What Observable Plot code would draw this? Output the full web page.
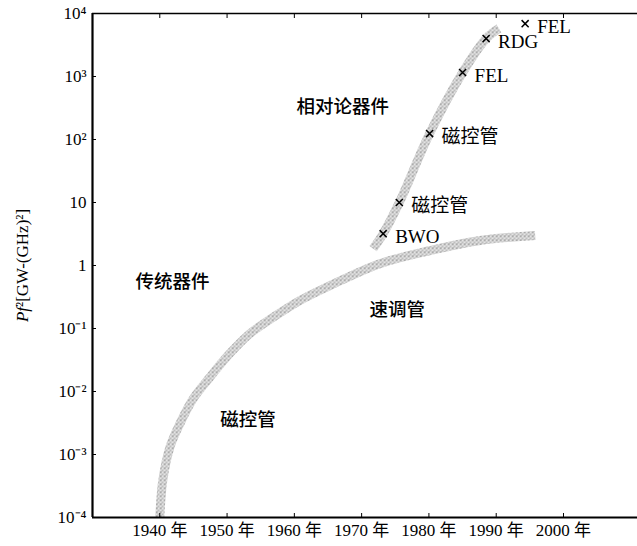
<!DOCTYPE html>
<html>
<head>
<meta charset="utf-8">
<script src="https://cdn.jsdelivr.net/npm/d3@7"></script>
<script src="https://cdn.jsdelivr.net/npm/@observablehq/plot@0.6"></script>
<style>
  html, body { margin: 0; padding: 0; background: #fff; }
</style>
</head>
<body>
<div id="chart"></div>
<script>
// ---- data ----
const xTicks = [1940, 1950, 1960, 1970, 1980, 1990, 2000];
const xTickLabels = ["1940 年", "1950 年", "1960 年", "1970 年", "1980 年", "1990 年", "2000 年"];
const yTicks = [1e-4, 1e-3, 1e-2, 1e-1, 1, 10, 100, 1e3, 1e4];
const yTickLabels = ["10⁻⁴", "10⁻³", "10⁻²", "10⁻¹", "1", "10", "10²", "10³", "10⁴"];
const yLabel = "Pf²[GW-(GHz)²]";

// conventional devices trend band
const lowerYears  = [1940.0, 1940.45, 1941.5, 1943.0, 1944.9, 1947.4, 1950.4, 1953.4, 1956.8, 1960.8, 1965.3, 1972.7, 1980.2, 1987.6, 1995.8];
const lowerValues = [1e-4, 3.9e-4, 1.3e-3, 3.1e-3, 7.5e-3, 0.0166, 0.040, 0.083, 0.149, 0.277, 0.48, 1.07, 1.73, 2.5, 3.0];

// relativistic devices trend band
const upperYears  = [1971.7, 1973.2, 1975.6, 1980.1, 1985.0, 1988.5, 1990.4];
const upperValues = [1.85, 3.2, 10, 124, 1155, 4000, 5800];

// marked devices
const deviceNames  = ["BWO", "磁控管", "磁控管", "FEL", "RDG", "FEL"];
const deviceYears  = [1973.2, 1975.6, 1980.1, 1985.0, 1988.5, 1994.3];
const deviceValues = [3.2, 10, 124, 1155, 4000, 6900];

// region labels
const regionNames  = ["相对论器件", "传统器件", "速调管", "磁控管"];
const regionYears  = [1967.2, 1941.9, 1975.3, 1953.1];
const regionValues = [325, 0.54, 0.193, 0.0035];

// ---- tables built from the arrays ----
const lower = lowerYears.map((x, i) => ({x, y: lowerValues[i]}));
const upper = upperYears.map((x, i) => ({x, y: upperValues[i]}));
const devices = deviceNames.map((name, i) => ({name, x: deviceYears[i], y: deviceValues[i]}));
const regions = regionNames.map((name, i) => ({name, x: regionYears[i], y: regionValues[i]}));

const serif = "'Liberation Serif','Times New Roman','Noto Sans CJK SC',serif";
const cjk = "'Noto Sans CJK SC',sans-serif";

const chart = Plot.plot({
  width: 637,
  height: 546,
  marginLeft: 92,
  marginRight: 0,
  marginTop: 13,
  marginBottom: 29,
  style: {fontFamily: serif, fontSize: "16px", color: "#000", background: "#fff", overflow: "visible"},
  x: {domain: [1930, 2011]},
  y: {type: "log", domain: [1e-4, 1e4]},
  marks: [
    Plot.line(lower, {x: "x", y: "y", curve: "catmull-rom", stroke: "url(#stipple)", strokeWidth: 9, strokeLinecap: "butt"}),
    Plot.line(upper, {x: "x", y: "y", curve: "catmull-rom", stroke: "url(#stipple)", strokeWidth: 9, strokeLinecap: "butt"}),
    Plot.dot(devices, {x: "x", y: "y", symbol: "times", r: 3.3, stroke: "#000", strokeWidth: 1.5}),
    Plot.text(devices, {x: "x", y: "y", text: "name", textAnchor: "start", dx: 12, dy: 3, fontSize: 19, fontFamily: serif}),
    Plot.text(regions, {x: "x", y: "y", text: "name", fontSize: 18.5, fontFamily: cjk, fontWeight: 500}),
    Plot.ruleX([1930], {strokeWidth: 2.2}),
    Plot.ruleY([1e-4], {strokeWidth: 2.2}),
    Plot.ruleY([1e4], {strokeWidth: 1.6}),
    Plot.axisX({ticks: xTicks, tickFormat: d => xTickLabels[xTicks.indexOf(d)], tickSize: -4, tickPadding: 10, fontSize: 17, label: null, fontFamily: serif}),
    Plot.axisX({anchor: "top", ticks: xTicks, tickFormat: () => "", tickSize: -4, label: null}),
    Plot.axisY({ticks: yTicks, tickFormat: d => yTickLabels[yTicks.indexOf(d)], tickSize: -4, tickPadding: 10, fontSize: 17, label: null, fontFamily: serif}),
    Plot.text([yLabel], {text: d => d, frameAnchor: "left", textAnchor: "middle", rotate: -90, dx: -70, fontSize: 17, fontFamily: serif})
  ]
});

// stipple pattern for the trend bands
const svg = d3.select(chart);
const defs = svg.insert("defs", ":first-child");
const pat = defs.append("pattern").attr("id", "stipple").attr("patternUnits", "userSpaceOnUse").attr("width", 4).attr("height", 4);
pat.append("rect").attr("width", 4).attr("height", 4).attr("fill", "#e4e4e4");
[[0, 0], [2, 1], [1, 2], [3, 3], [0, 3]].forEach(([a, b]) =>
  pat.append("rect").attr("x", a).attr("y", b).attr("width", 1).attr("height", 1).attr("fill", "#989898"));

// italic P f in the y label
svg.selectAll("text").filter(function () { return this.textContent === yLabel; }).each(function () {
  const t = d3.select(this);
  t.text(null);
  t.append("tspan").attr("font-style", "italic").text("Pf");
  t.append("tspan").text(yLabel.slice(2));
});

document.getElementById("chart").appendChild(chart);
</script>
</body>
</html>
